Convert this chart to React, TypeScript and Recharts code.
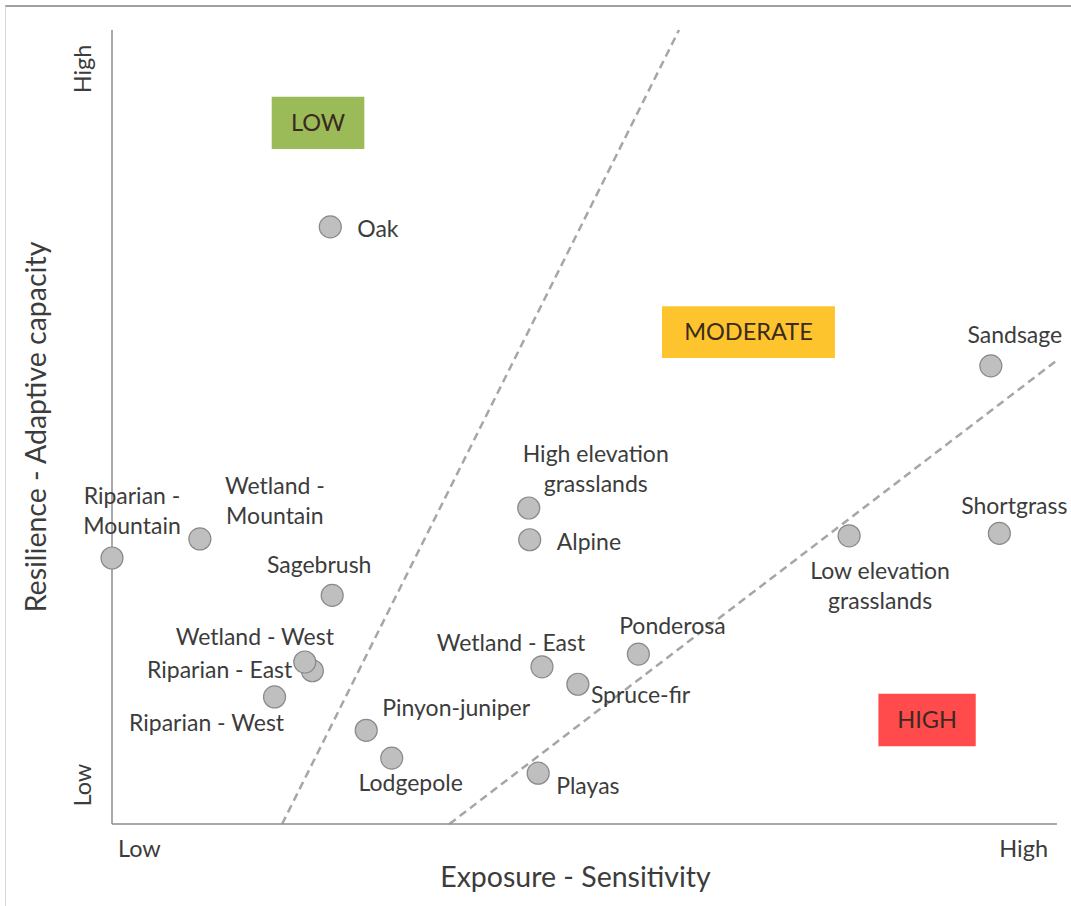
import React from 'react';
import {
  ScatterChart,
  Scatter,
  XAxis,
  YAxis,
  ReferenceLine,
  ReferenceArea,
  Label,
} from 'recharts';

// ---- data ----
const NAMES = [
  'Oak',
  'Sandsage',
  'Shortgrass',
  'Low elevation grasslands',
  'High elevation grasslands',
  'Alpine',
  'Riparian - Mountain',
  'Wetland - Mountain',
  'Sagebrush',
  'Riparian - East',
  'Wetland - West',
  'Riparian - West',
  'Pinyon-juniper',
  'Lodgepole',
  'Wetland - East',
  'Spruce-fir',
  'Ponderosa',
  'Playas',
];
const EXPOSURE = [23.1, 93.0, 93.9, 78.0, 44.1, 44.2, 0, 9.3, 23.3, 21.2, 20.4, 17.2, 26.9, 29.6, 45.5, 49.3, 55.7, 45.1];
const RESILIENCE = [75.2, 57.7, 36.6, 36.3, 39.8, 35.8, 33.5, 35.9, 28.8, 19.3, 20.4, 16.0, 11.8, 8.3, 19.8, 17.6, 21.4, 6.4];

const X_TICKS = [0, 100];
const X_TICK_LABELS = ['Low', 'High'];
const Y_TICKS = [4.9, 95.1];
const Y_TICK_LABELS = ['Low', 'High'];

const X_TITLE = 'Exposure - Sensitivity';
const Y_TITLE = 'Resilience - Adaptive capacity';

// zone boxes (data coords)
const ZONE_NAMES = ['LOW', 'MODERATE', 'HIGH'];
const ZONE_X1 = [16.9, 58.2, 81.1];
const ZONE_X2 = [26.7, 76.5, 91.4];
const ZONE_Y1 = [85.0, 58.7, 9.8];
const ZONE_Y2 = [91.6, 65.2, 16.4];

// boundary lines (data coords)
const BOUNDARY_1 = [
  { x: 18, y: 0 },
  { x: 60, y: 100 },
];
const BOUNDARY_2 = [
  { x: 35.7, y: 0 },
  { x: 100, y: 58.4 },
];

const data = NAMES.map((name, i) => ({ name, x: EXPOSURE[i], y: RESILIENCE[i] }));

// ---- style / layout ----
const FONT = 'Lato, "Open Sans", sans-serif';
const TEXT = '#3C3C3C';
const ZONE_COLORS = ['#9BBB59', '#FDC42E', '#FF4B4B'];
const LABEL_SIZE = 23;

type LabelLayout = { dx: number; dy: number; anchor: 'start' | 'middle' | 'end'; lines?: string[] };
const LABEL_LAYOUT: Record<string, LabelLayout> = {
  Oak: { dx: 27, dy: 1, anchor: 'start' },
  Sandsage: { dx: 24, dy: -32, anchor: 'middle' },
  Shortgrass: { dx: 15, dy: -28, anchor: 'middle' },
  'Low elevation grasslands': { dx: 31, dy: 34, anchor: 'middle', lines: ['Low elevation', 'grasslands'] },
  'High elevation grasslands': { dx: 67, dy: -55, anchor: 'middle', lines: ['High elevation', 'grasslands'] },
  Alpine: { dx: 27, dy: 1, anchor: 'start' },
  'Riparian - Mountain': { dx: 20, dy: -63, anchor: 'middle', lines: ['Riparian -', 'Mountain'] },
  'Wetland - Mountain': { dx: 75, dy: -54, anchor: 'middle', lines: ['Wetland -', 'Mountain'] },
  Sagebrush: { dx: -13, dy: -31, anchor: 'middle' },
  'Wetland - West': { dx: -50, dy: -26, anchor: 'middle' },
  'Riparian - East': { dx: -20, dy: -2, anchor: 'end' },
  'Riparian - West': { dx: -68, dy: 25, anchor: 'middle' },
  'Pinyon-juniper': { dx: 90, dy: -23, anchor: 'middle' },
  Lodgepole: { dx: 19, dy: 24, anchor: 'middle' },
  'Wetland - East': { dx: -31, dy: -25, anchor: 'middle' },
  'Spruce-fir': { dx: 13, dy: 10, anchor: 'start' },
  Ponderosa: { dx: 34, dy: -29, anchor: 'middle' },
  Playas: { dx: 18, dy: 12, anchor: 'start' },
};

const PointShape = (props: any) => {
  const { cx, cy, payload } = props;
  const lay = LABEL_LAYOUT[payload.name] || { dx: 15, dy: 0, anchor: 'start' };
  const lines = lay.lines || [payload.name];
  return (
    <g>
      <circle cx={cx} cy={cy} r={11} fill="#BFBFBF" stroke="#8A8A8A" strokeWidth={1.2} />
      {lines.map((ln, i) => (
        <text
          key={i}
          x={cx + lay.dx}
          y={cy + lay.dy + i * 30}
          textAnchor={lay.anchor}
          dominantBaseline="central"
          fill={TEXT}
          fontSize={LABEL_SIZE}
          fontFamily={FONT}
        >
          {ln}
        </text>
      ))}
    </g>
  );
};

const XTick = (props: any) => {
  const { x, y, payload, index } = props;
  const isLow = payload.value === X_TICKS[0];
  return (
    <text
      x={isLow ? x + 6 : x - 9}
      y={y + 24}
      textAnchor={isLow ? 'start' : 'end'}
      dominantBaseline="central"
      fill={TEXT}
      fontSize={23.5}
      fontFamily={FONT}
    >
      {X_TICK_LABELS[index]}
    </text>
  );
};

const YTick = (props: any) => {
  const { x, y, index } = props;
  const tx = x - 30;
  return (
    <text
      x={tx}
      y={y}
      transform={`rotate(-90 ${tx} ${y})`}
      textAnchor="middle"
      dominantBaseline="central"
      fill={TEXT}
      fontSize={23.5}
      fontFamily={FONT}
    >
      {Y_TICK_LABELS[index]}
    </text>
  );
};

export default function App() {
  return (
    <div style={{ position: 'absolute', left: 0, top: 0, width: 1071, height: 906, background: '#fff' }}>
      <div
        style={{
          position: 'absolute',
          left: 5,
          top: 5,
          width: 1066,
          height: 901,
          borderTop: '2px solid #A0A0A0',
          borderLeft: '1px solid #D8D8D8',
          boxSizing: 'border-box',
        }}
      />
      <div style={{ position: 'absolute', left: 0, top: 0 }}>
        <ScatterChart width={1071} height={906} margin={{ top: 30, right: 14, bottom: 42, left: 52 }}>
          <XAxis
            type="number"
            dataKey="x"
            domain={[0, 100]}
            ticks={X_TICKS}
            tick={<XTick />}
            tickLine={false}
            tickSize={0}
            tickMargin={0}
            height={40}
            axisLine={{ stroke: '#8C8C8C', strokeWidth: 1.5 }}
          >
            <Label
              content={(p: any) => {
                const vb = p.viewBox;
                return (
                  <text
                    x={vb.x + vb.width / 2 - 9}
                    y={876}
                    textAnchor="middle"
                    dominantBaseline="central"
                    fill={TEXT}
                    fontSize={28.5}
                    fontFamily={FONT}
                  >
                    {X_TITLE}
                  </text>
                );
              }}
            />
          </XAxis>
          <YAxis
            type="number"
            dataKey="y"
            domain={[0, 100]}
            ticks={Y_TICKS}
            tick={<YTick />}
            tickLine={false}
            tickSize={0}
            tickMargin={0}
            width={60}
            axisLine={{ stroke: '#8C8C8C', strokeWidth: 1.5 }}
          >
            <Label
              content={(p: any) => {
                const vb = p.viewBox;
                const x = 35;
                const y = vb.y + vb.height / 2;
                return (
                  <text
                    x={x}
                    y={y}
                    transform={`rotate(-90 ${x} ${y})`}
                    textAnchor="middle"
                    dominantBaseline="central"
                    fill={TEXT}
                    fontSize={28.5}
                    fontFamily={FONT}
                  >
                    {Y_TITLE}
                  </text>
                );
              }}
            />
          </YAxis>
          {ZONE_NAMES.map((z, i) => (
            <ReferenceArea
              key={z}
              x1={ZONE_X1[i]}
              x2={ZONE_X2[i]}
              y1={ZONE_Y1[i]}
              y2={ZONE_Y2[i]}
              fill={ZONE_COLORS[i]}
              fillOpacity={1}
              stroke="none"
              ifOverflow="visible"
              label={{ value: z, position: 'center', fill: '#3A2A20', fontSize: 23.5, fontFamily: FONT }}
            />
          ))}
          <ReferenceLine segment={BOUNDARY_1} stroke="#A6A6A6" strokeWidth={2.5} strokeDasharray="8 5" ifOverflow="visible" />
          <ReferenceLine segment={BOUNDARY_2} stroke="#A6A6A6" strokeWidth={2.5} strokeDasharray="8 5" ifOverflow="visible" />
          <Scatter data={data} shape={PointShape} isAnimationActive={false} />
        </ScatterChart>
      </div>
    </div>
  );
}
